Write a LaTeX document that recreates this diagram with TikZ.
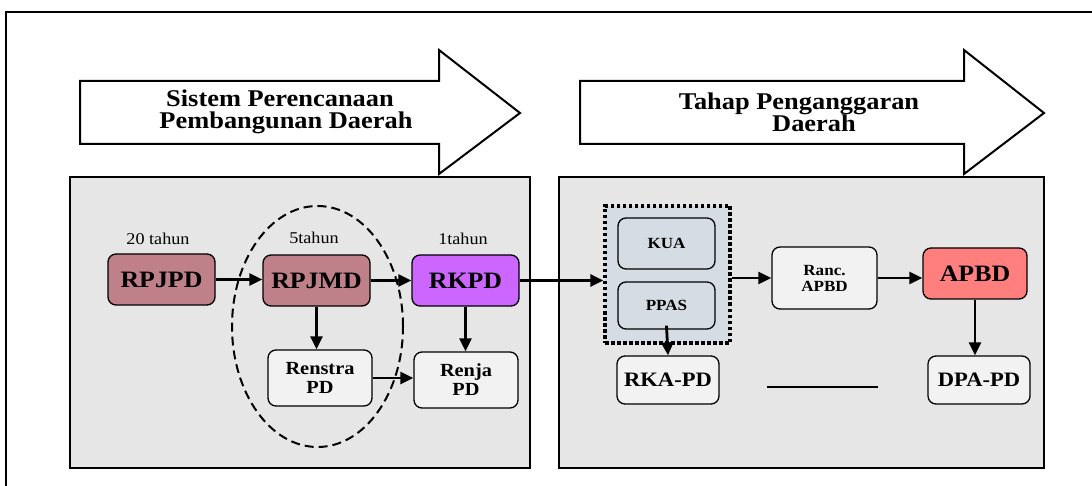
\documentclass[tikz,border=0pt]{standalone}
\usepackage{fontspec}
\setmainfont{Liberation Serif}[FakeStretch=1.1]
\usetikzlibrary{arrows.meta,shapes.geometric}
\definecolor{panelgray}{HTML}{E6E6E6}
\definecolor{boxgray}{HTML}{F2F2F2}
\definecolor{rosefill}{HTML}{C0808A}
\definecolor{violetfill}{HTML}{CC66FF}
\definecolor{salmonfill}{HTML}{FF7F7F}
\definecolor{bluegrayfill}{HTML}{D6DCE4}
\begin{document}
\begin{tikzpicture}[x=1pt,y=-1pt,
  bigarrow/.style={draw=black, line width=2pt, fill=white, line join=miter},
  arrowtext/.style={font=\bfseries\fontsize{24}{22}\selectfont, align=center, inner sep=0pt},
  panel/.style={draw=black, line width=2pt, fill=panelgray},
  box/.style={draw=black, line width=1.3pt, rounded corners=8pt, fill=boxgray, align=center, inner sep=0pt, font=\bfseries},
  bigtext/.style={font=\bfseries\fontsize{23.5}{25}\selectfont},
  midtext/.style={font=\bfseries\fontsize{18.5}{19}\selectfont},
  smalltext/.style={font=\bfseries\fontsize{15.5}{16}\selectfont},
  yearlabel/.style={font=\fontsize{16.5}{17}\selectfont, inner sep=0pt},
  conn/.style={line width=2.8pt, -{Triangle[length=13pt,width=12pt]}},
  plainline/.style={line width=1.3pt}
]
\useasboundingbox (0,0) rectangle (1092,486);
% outer frame (left and top edges)
\draw[line width=1.5pt] (6,486) -- (6,12) -- (1092,12);

% big arrows
\draw[bigarrow] (80,81) -- (439,81) -- (439,50) -- (520,113) -- (439,174) -- (439,144) -- (80,144) -- cycle;
\node[arrowtext] (t1) at (280,112) {Sistem Perencanaan\\\hspace*{12pt}Pembangunan Daerah};
\draw[bigarrow] (580,81) -- (964,81) -- (964,50) -- (1044,113) -- (964,174) -- (964,144) -- (580,144) -- cycle;
\node[arrowtext] (t2) at (799,112) {Tahap Penganggaran\\\hspace*{30pt}Daerah};

% panels
\draw[panel] (70,177) rectangle (530,468);
\draw[panel] (559,177) rectangle (1044,468);

% left panel nodes
\node[yearlabel] (y20) at (158,239) {20 tahun};
\node[yearlabel] (y5) at (314,238) {5tahun};
\node[yearlabel] (y1) at (463,239) {1tahun};
\node[box, bigtext, fill=rosefill, minimum width=107pt, minimum height=51pt] (rpjpd) at (161.5,279.5) {RPJPD};
\node[box, bigtext, fill=rosefill, minimum width=107pt, minimum height=51pt] (rpjmd) at (316.5,280.5) {RPJMD};
\node[box, bigtext, fill=violetfill, minimum width=107pt, minimum height=51pt] (rkpd) at (465.5,280.5) {RKPD};
\node[box, midtext, minimum width=104pt, minimum height=56pt] (renstra) at (320,378) {Renstra\\PD};
\node[box, midtext, minimum width=104pt, minimum height=56pt] (renja) at (466,380) {Renja\\PD};

% right panel nodes
\node[draw=black, line width=3.2pt, dash pattern=on 3.5pt off 2.5pt, fill=bluegrayfill, minimum width=125pt, minimum height=137pt, inner sep=0pt] (grp) at (667.5,274.5) {};
\node[box, smalltext, fill=bluegrayfill, minimum width=97pt, minimum height=51pt] (kua) at (666.5,243.5) {KUA};
\node[box, smalltext, fill=bluegrayfill, minimum width=97pt, minimum height=47pt] (ppas) at (666.5,305.5) {PPAS};
\node[box, smalltext, minimum width=105pt, minimum height=62pt] (ranc) at (824.5,278) {Ranc.\\APBD};
\node[box, bigtext, fill=salmonfill, minimum width=104pt, minimum height=51pt] (apbd) at (975,273.5) {APBD};
\node[box, font=\bfseries\fontsize{20.5}{22}\selectfont, minimum width=102pt, minimum height=48pt] (rka) at (668,380) {RKA-PD};
\node[box, font=\bfseries\fontsize{20.5}{22}\selectfont, minimum width=102pt, minimum height=48pt] (dpa) at (979,380) {DPA-PD};
\coordinate (la) at (767,387);
\coordinate (lb) at (878,387);

% connectors
\draw[conn] (rpjpd.east) -- (rpjpd.east -| rpjmd.west);
\draw[conn] (rpjmd.east) -- (rkpd.west);
\draw[conn] (rkpd.east) -- (rkpd.east -| grp.west);
\draw[conn] (rpjmd.south) -- (rpjmd.south |- renstra.north);
\draw[conn] (rkpd.south) -- (rkpd.south |- renja.north);
\draw[conn] (renstra.east) -- (renstra.east -| renja.west);
\draw[conn] (ranc.west -| grp.east) -- (ranc.west);
\draw[conn] (ranc.east) -- (ranc.east -| apbd.west);
\draw[conn] ([yshift=4pt]ppas.south) -- (rka.north);
\draw[conn] (apbd.south) -- (apbd.south |- dpa.north);
\draw[plainline] (la) -- (lb);

% dashed ellipse
\node[draw=black, line width=2pt, dash pattern=on 9pt off 5pt, ellipse, minimum width=171pt, minimum height=241pt, inner sep=0pt] (ell) at (317.5,326.5) {};
\end{tikzpicture}
\end{document}
